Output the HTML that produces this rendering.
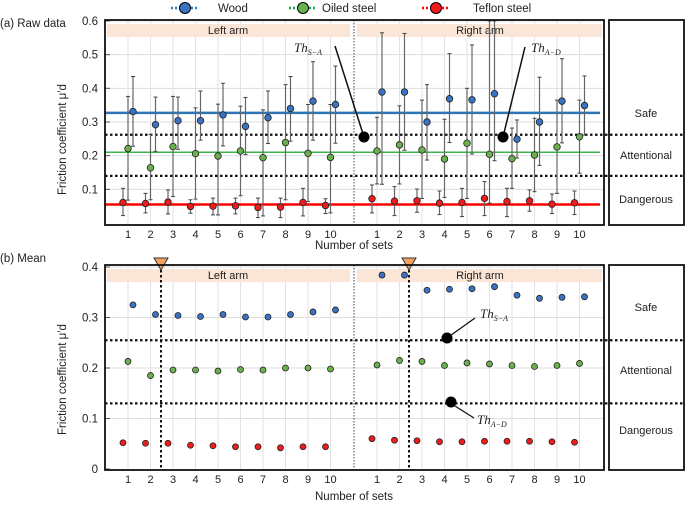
<!DOCTYPE html>
<html><head><meta charset="utf-8"><style>
body{margin:0;background:#fff}
svg{display:block;font-family:"Liberation Sans",sans-serif}
</style></head><body>
<svg id="c" width="685" height="511" viewBox="0 0 685 511"></svg>
<script>
const categories=[1,2,3,4,5,6,7,8,9,10];
const rawWoodL=[0.331,0.292,0.304,0.304,0.321,0.287,0.313,0.340,0.362,0.352];
const rawWoodLHi=[0.435,0.374,0.374,0.392,0.415,0.373,0.392,0.435,0.479,0.466];
const rawWoodLLo=[0.228,0.212,0.219,0.246,0.229,0.203,0.236,0.243,0.246,0.237];
const rawOilL=[0.221,0.164,0.227,0.206,0.199,0.214,0.194,0.239,0.207,0.195];
const rawOilLHi=[0.376,0.263,0.376,0.342,0.353,0.347,0.336,0.411,0.352,0.352];
const rawOilLLo=[0.068,0.069,0.079,0.071,0.024,0.081,0.021,0.069,0.064,0.030];
const rawTefL=[0.061,0.058,0.062,0.049,0.050,0.051,0.046,0.047,0.061,0.052];
const rawTefLHi=[0.103,0.088,0.098,0.069,0.074,0.074,0.074,0.074,0.103,0.072];
const rawTefLLo=[0.022,0.030,0.027,0.029,0.024,0.027,0.016,0.016,0.021,0.028];
const rawWoodR=[0.389,0.389,0.300,0.369,0.366,0.384,0.249,0.300,0.362,0.349];
const rawWoodRHi=[0.565,0.563,0.411,0.503,0.529,0.600,0.306,0.433,0.488,0.437];
const rawWoodRLo=[0.115,0.216,0.187,0.239,0.205,0.185,0.193,0.171,0.238,0.261];
const rawOilR=[0.214,0.232,0.217,0.190,0.237,0.204,0.191,0.202,0.226,0.256];
const rawOilRHi=[0.314,0.348,0.365,0.308,0.400,0.600,0.282,0.311,0.365,0.365];
const rawOilRLo=[0.116,0.116,0.073,0.076,0.073,0.059,0.103,0.093,0.088,0.148];
const rawTefR=[0.072,0.065,0.066,0.059,0.061,0.073,0.064,0.066,0.056,0.060];
const rawTefRHi=[0.113,0.108,0.101,0.095,0.103,0.123,0.103,0.098,0.086,0.095];
const rawTefRLo=[0.030,0.022,0.032,0.025,0.019,0.022,0.019,0.035,0.028,0.025];
const meanWoodL=[0.325,0.306,0.304,0.302,0.306,0.301,0.301,0.306,0.311,0.315];
const meanOilL=[0.213,0.185,0.196,0.196,0.194,0.197,0.196,0.200,0.200,0.198];
const meanTefL=[0.052,0.051,0.051,0.047,0.046,0.044,0.044,0.042,0.044,0.044];
const meanWoodR=[0.384,0.384,0.354,0.356,0.357,0.361,0.344,0.338,0.340,0.341];
const meanOilR=[0.206,0.215,0.213,0.205,0.210,0.208,0.205,0.203,0.205,0.209];
const meanTefR=[0.060,0.057,0.056,0.054,0.054,0.055,0.055,0.055,0.054,0.053];
const overallLines=[0.327,0.210,0.055];
const thresholds=[0.262,0.140];
const meanThresholds=[0.255,0.130];
const topTicks=[0.1,0.2,0.3,0.4,0.5,0.6];
const botTicks=[0,0.1,0.2,0.3,0.4];

const NS='http://www.w3.org/2000/svg';
const svg=document.getElementById('c');
function mk(tag,attrs,name,parent){const e=document.createElementNS(NS,tag);for(const k in attrs)e.setAttribute(k,attrs[k]);


(parent||svg).appendChild(e);return e;}
function txt(x,y,s,name,o){const e=mk('text',Object.assign({x:x,y:y,'font-size':11,fill:'#222'},o||{}),name);e.textContent=s;return e;}
const xL=i=>128+i*22.5, xR=i=>377+i*22.5;
const yTop=v=>223-v*336.7;
const yBot=v=>469-v*505;
const cols={wood:'#3a72c4',oil:'#6ab04c',tef:'#ee1c1c'};

// legend
[[185,'wood','#2e75b6','Wood',218],[303,'oil','#00b050','Oiled steel',322],[436,'tef','#ff0000','Teflon steel',473]].forEach(l=>{
 mk('line',{x1:l[0]-14,y1:8,x2:l[0]+14,y2:8,stroke:l[2],'stroke-width':2.5,'stroke-dasharray':'2 2'},'legend-line-'+l[1]);
 mk('circle',{cx:l[0],cy:8,r:5.5,fill:cols[l[1]],stroke:'#000','stroke-width':1},'legend-marker-'+l[1]);
 txt(l[4],12,l[3],'legend-label-'+l[1],{'font-size':11.5});
});

function panel(yf,ticks,top,bot,prefix){
 // grid
 ticks.forEach(t=>{ if(t>0) mk('line',{x1:105,x2:604,y1:yf(t),y2:yf(t),stroke:'#ddd','stroke-width':1},prefix+'-grid-h');
  txt(98,yf(t)+4,String(t),prefix+'-y-tick-label',{'text-anchor':'end','font-size':11.5});
  mk('line',{x1:105,x2:110,y1:yf(t),y2:yf(t),stroke:'#555'},prefix+'-y-tick');});
 categories.forEach((c,i)=>{[xL(i),xR(i)].forEach((x,k)=>{
  mk('line',{x1:x,x2:x,y1:top,y2:bot,stroke:'#e2e2e2'},prefix+'-grid-v');
  txt(x,bot+13,String(c),prefix+'-x-tick-label',{'text-anchor':'middle','font-size':11});});});
 mk('rect',{x:107,y:top+4,width:243,height:13,fill:'#fbe5d6'},prefix+'-left-arm-band');
 mk('rect',{x:357,y:top+4,width:245,height:13,fill:'#fbe5d6'},prefix+'-right-arm-band');
 txt(228,top+14,'Left arm',prefix+'-left-arm-label',{'text-anchor':'middle'});
 txt(480,top+14,'Right arm',prefix+'-right-arm-label',{'text-anchor':'middle'});
 mk('line',{x1:354,x2:354,y1:top,y2:bot,stroke:'#444','stroke-dasharray':'1.5 1.5'},prefix+'-arm-divider');
}
function box(top,bot,prefix,labels){
 mk('rect',{x:105,y:top,width:499,height:bot-top,fill:'none',stroke:'#111','stroke-width':1.8},prefix+'-plot-frame');
 mk('rect',{x:609,y:top,width:75,height:bot-top,fill:'none',stroke:'#111','stroke-width':1.8},prefix+'-zone-frame');
 labels.forEach(l=>txt(646,l[1],l[0],prefix+'-zone-'+l[0].toLowerCase(),{'text-anchor':'middle'}));
}
function pts(arr,xf,off,yf,col,name,r){arr.forEach((v,i)=>mk('circle',{cx:xf(i)+off,cy:yf(v),r:r||3.3,fill:col,stroke:'#222','stroke-width':0.8},name));}
function errs(lo,hi,xf,off,name){lo.forEach((l,i)=>{const x=xf(i)+off;
 mk('line',{x1:x,x2:x,y1:yTop(hi[i]),y2:yTop(l),stroke:'#666','stroke-width':1.2},name);
 mk('line',{x1:x-2,x2:x+2,y1:yTop(hi[i]),y2:yTop(hi[i]),stroke:'#444'},name+'-cap');
 mk('line',{x1:x-2,x2:x+2,y1:yTop(l),y2:yTop(l),stroke:'#444'},name+'-cap');});}

// ---- top panel
txt(0,27,'(a) Raw data','panel-a-title',{'font-size':11.5});
panel(yTop,topTicks,20,225,'raw');
mk('line',{x1:105,x2:600,y1:yTop(overallLines[0]),y2:yTop(overallLines[0]),stroke:'#2e75b6','stroke-width':2.5},'wood-mean-line');
mk('line',{x1:105,x2:600,y1:yTop(overallLines[1]),y2:yTop(overallLines[1]),stroke:'#3cb44b','stroke-width':1.5},'oil-mean-line');
mk('line',{x1:105,x2:600,y1:yTop(overallLines[2]),y2:yTop(overallLines[2]),stroke:'#ff0000','stroke-width':2.5},'teflon-mean-line');
thresholds.forEach((t,k)=>mk('line',{x1:105,x2:685,y1:yTop(t),y2:yTop(t),stroke:'#111','stroke-width':2.2,'stroke-dasharray':'2.5 2.5'},k?'threshold-a-d':'threshold-s-a'));
[[rawTefLLo,rawTefLHi,rawTefL,xL,-5,'tef'],[rawOilLLo,rawOilLHi,rawOilL,xL,0,'oil'],[rawWoodLLo,rawWoodLHi,rawWoodL,xL,5,'wood'],
 [rawTefRLo,rawTefRHi,rawTefR,xR,-5,'tef'],[rawOilRLo,rawOilRHi,rawOilR,xR,0,'oil'],[rawWoodRLo,rawWoodRHi,rawWoodR,xR,5,'wood']].forEach(s=>{
 errs(s[0],s[1],s[3],s[4],'raw-error-'+s[5]);pts(s[2],s[3],s[4],yTop,cols[s[5]],'raw-point-'+s[5]);});
mk('line',{x1:335,y1:46,x2:364,y2:137,stroke:'#111','stroke-width':1.5},'th-s-a-pointer');
mk('line',{x1:525,y1:47,x2:503,y2:137,stroke:'#111','stroke-width':1.5},'th-a-d-pointer');
mk('circle',{cx:364,cy:137,r:5.5,fill:'#000'},'th-s-a-dot');
mk('circle',{cx:503,cy:137,r:5.5,fill:'#000'},'th-a-d-dot');
txt(294,52,'Th','th-s-a-label',{'font-family':'Liberation Serif','font-style':'italic','font-size':13}).innerHTML='Th<tspan font-size="8" dy="3">S−A</tspan>';
txt(531,52,'Th','th-a-d-label',{'font-family':'Liberation Serif','font-style':'italic','font-size':13}).innerHTML='Th<tspan font-size="8" dy="3">A−D</tspan>';
box(20,225,'raw',[['Safe',117],['Attentional',159],['Dangerous',203]]);
txt(0,0,'Friction coefficient μ′d','raw-y-axis-title',{transform:'translate(66,195) rotate(-90)','font-size':11.5});
txt(354,249,'Number of sets','raw-x-axis-title',{'text-anchor':'middle','font-size':11.5});

// ---- bottom panel
txt(0,262,'(b) Mean','panel-b-title',{'font-size':11.5});
panel(yBot,botTicks,265,470,'mean');
meanThresholds.forEach((t,k)=>mk('line',{x1:105,x2:685,y1:yBot(t),y2:yBot(t),stroke:'#111','stroke-width':2.2,'stroke-dasharray':'2.5 2.5'},k?'mean-threshold-a-d':'mean-threshold-s-a'));
[161,409].forEach((x,k)=>{mk('line',{x1:x,x2:x,y1:265,y2:470,stroke:'#111','stroke-width':2,'stroke-dasharray':'2.5 2.5'},'change-point-line');
 mk('polygon',{points:(x-7)+',258 '+(x+7)+',258 '+x+',270',fill:'#f4a460',stroke:'#333','stroke-width':1},'change-point-marker');});
[[meanTefL,xL,-5,'tef'],[meanOilL,xL,0,'oil'],[meanWoodL,xL,5,'wood'],[meanTefR,xR,-5,'tef'],[meanOilR,xR,0,'oil'],[meanWoodR,xR,5,'wood']].forEach(s=>
 pts(s[0],s[1],s[2],yBot,cols[s[3]],'mean-point-'+s[3],3));
mk('line',{x1:475,y1:318,x2:447,y2:338,stroke:'#111','stroke-width':1.3},'mean-th-s-a-pointer');
mk('line',{x1:455,y1:406,x2:474,y2:418,stroke:'#111','stroke-width':1.3},'mean-th-a-d-pointer');
mk('circle',{cx:447,cy:338,r:5.5,fill:'#000'},'mean-th-s-a-dot');
mk('circle',{cx:451,cy:402,r:5.5,fill:'#000'},'mean-th-a-d-dot');
txt(480,318,'Th','mean-th-s-a-label',{'font-family':'Liberation Serif','font-style':'italic','font-size':13}).innerHTML='Th<tspan font-size="8" dy="3">S−A</tspan>';
txt(477,424,'Th','mean-th-a-d-label',{'font-family':'Liberation Serif','font-style':'italic','font-size':13}).innerHTML='Th<tspan font-size="8" dy="3">A−D</tspan>';
box(265,470,'mean',[['Safe',311],['Attentional',374],['Dangerous',434]]);
txt(0,0,'Friction coefficient μ′d','mean-y-axis-title',{transform:'translate(66,435) rotate(-90)','font-size':11.5});
txt(354,500,'Number of sets','mean-x-axis-title',{'text-anchor':'middle','font-size':11.5});
</script>
</body></html>
